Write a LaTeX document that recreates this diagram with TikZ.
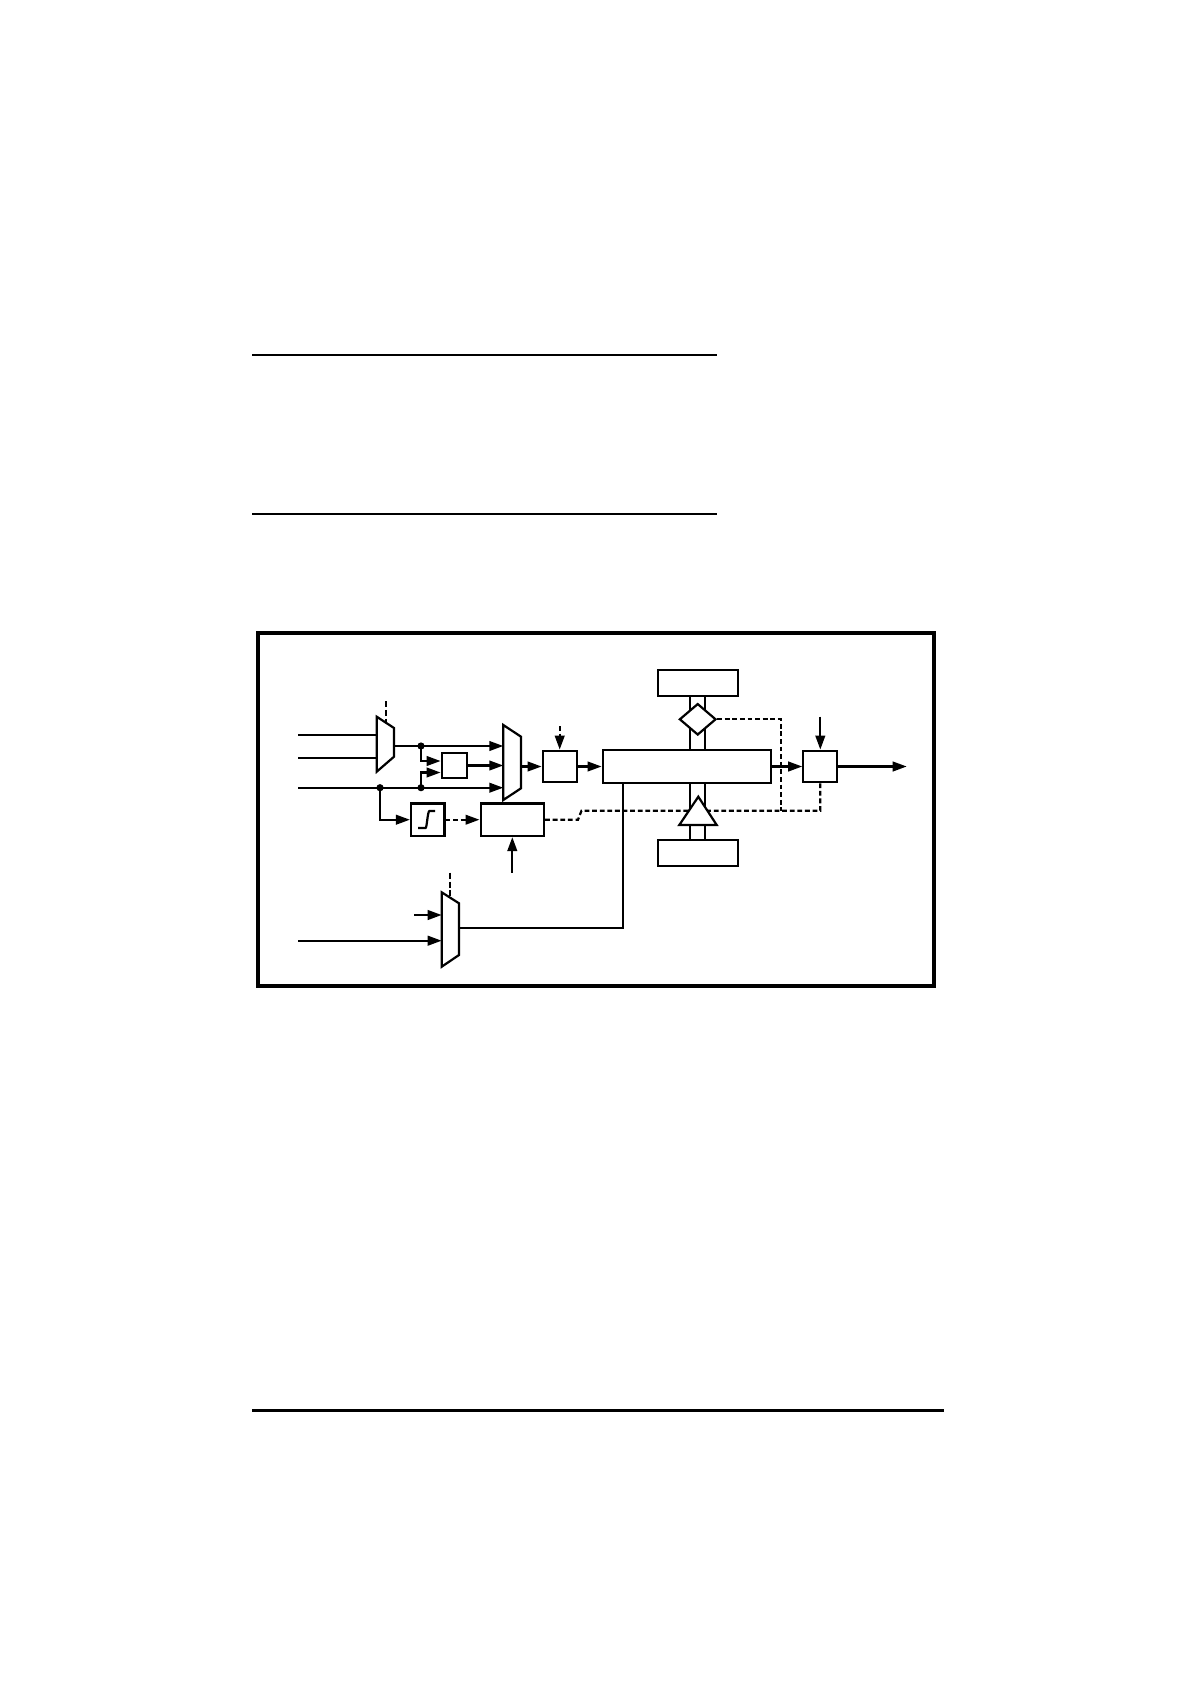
\documentclass[tikz,border=0pt]{standalone}
\usetikzlibrary{arrows.meta,shapes.geometric}
\begin{document}
\begin{tikzpicture}[x=0.5pt,y=-0.5pt,
  line width=1.1pt,
  arr/.style={-{Triangle[length=7pt,width=4.8pt]}},
  dsh/.style={dash pattern=on 2.4pt off 1.4pt},
  seldash/.style={line width=1.4pt,dash pattern=on 3pt off 1.4pt},
  blk/.style={draw,rectangle,inner sep=0pt,fill=white},
  jdot/.style={circle,fill,inner sep=0pt,minimum size=3.6pt},
  muxshape/.style={draw,line join=miter,fill=white}]
\useasboundingbox (0,0) rectangle (1190,1684);

% page rules
\draw[line width=0.7pt] (252,355) -- (717,355);
\draw[line width=0.7pt] (252,514) -- (717,514);
\draw[line width=1.8pt] (252,1410.5) -- (944,1410.5);

% frame
\draw[line width=2pt] (258,633) rectangle (934,985.5);

% blocks
\node[blk,minimum width=12.8pt,minimum height=12.4pt] (sb) at (454.5,765.5) {};
\node[blk,minimum width=17pt,minimum height=15.8pt] (b3) at (559.7,766.5) {};
\node[blk,minimum width=84.2pt,minimum height=16.8pt] (big) at (686.9,766.5) {};
\node[blk,minimum width=17pt,minimum height=15.8pt] (b7) at (820.3,766.5) {};
\node[blk,minimum width=40.3pt,minimum height=13pt] (top) at (698,683) {};
\node[blk,minimum width=40.3pt,minimum height=13pt] (bot) at (698,853) {};
\node[blk,minimum width=16.7pt,minimum height=16.3pt] (stp) at (427.7,819.7) {};
\node[blk,minimum width=31.7pt,minimum height=16.3pt] (b5) at (512.3,819.7) {};

% step symbol
\draw (418,828) -- (425.5,828) .. controls (427,828) and (427.5,811) .. (429.5,811) -- (435,811);

% multiplexers
\draw[muxshape] (376.7,716.7) -- (394,728) -- (394,756.7) -- (376.7,771.7) -- cycle;
\draw[muxshape] (503.3,725) -- (521,736.7) -- (521,788.3) -- (503.3,800) -- cycle;
\draw[muxshape] (441.7,892.3) -- (459,903.3) -- (459,955) -- (441.7,966.7) -- cycle;

% connection points
\coordinate (i1) at (298.3,735);
\coordinate (i2) at (298.3,757.7);
\coordinate (i3) at (298.3,787.7);
\coordinate (i4) at (298.3,940.7);
\coordinate (m1a) at (376.7,735);
\coordinate (m1b) at (376.7,757.7);
\coordinate (m1o) at (394,746);
\coordinate (m1s) at (386,722.5);
\coordinate (s1) at (386,701);
\coordinate (m2a) at (503.3,746);
\coordinate (m2b) at (503.3,765.5);
\coordinate (m2c) at (503.3,787.7);
\coordinate (m2o) at (521,766.5);
\coordinate (m3a) at (441.7,915);
\coordinate (m3b) at (441.7,940.7);
\coordinate (m3o) at (459,927.7);
\coordinate (m3s) at (450,897.5);
\coordinate (s3) at (450,872.7);
\coordinate (a3) at (414,915);
\coordinate (s3b) at (559.7,726);
\coordinate (s7) at (820.3,716.7);
\coordinate (out) at (906.7,766.5);
\coordinate (b5in) at (512.3,872.7);
\coordinate (dj) at (781,810.7);

% solid connectors
\draw (i1) -- (m1a);
\draw (i2) -- (m1b);
\draw[arr] (m1o) -- (m2a);
\draw[arr] (i3) -- (m2c);
\node[jdot] (j1) at (421,746) {};
\node[jdot] (j2) at (421,787.7) {};
\node[jdot] (j3) at (380,787.7) {};
\draw[arr] (j1.center) |- ([yshift=2.25pt]sb.west);
\draw[arr] (j2.center) |- ([yshift=-3.5pt]sb.west);
\draw[arr] (sb.east) -- (m2b);
\draw[arr] (m2o) -- (b3.west);
\draw[arr] (b3.east) -- (big.west);
\draw[arr] (big.east) -- (b7.west);
\draw[arr] (s7) -- (b7.north);
\draw[arr] (b7.east) -- (out);
\draw[arr] (j3.center) |- (stp.west);
\draw[arr] (b5in) -- (b5.south);
\draw[arr] (i4) -- (m3b);
\draw[arr] (a3) -- (m3a);
\draw (m3o) -| ([xshift=-31.8pt]big.south);

% dashed connectors
\draw[seldash] (s1) -- (m1s);
\draw[seldash] (s3) -- (m3s);
\draw[arr,dsh] (s3b) -- (b3.north);
\draw[arr,dsh] (stp.east) -- (b5.west);
\draw[dsh] (b5.east) -- (578,819.7) -- (581.5,810.7) -- (b7.south |- dj) -- (b7.south);

% bus lines
\draw ([xshift=-4pt]top.south) -- ([xshift=-4pt]top.south |- big.north);
\draw ([xshift=3.65pt]top.south) -- ([xshift=3.65pt]top.south |- big.north);
\draw ([xshift=-4pt]bot.north) -- ([xshift=-4pt]bot.north |- big.south);
\draw ([xshift=3.65pt]bot.north) -- ([xshift=3.65pt]bot.north |- big.south);

% triangle and diamond on the bus
\draw[fill=white,line join=miter] (698.3,796.7) -- (716.7,825) -- (679.3,825) -- cycle;
\node[draw,diamond,fill=white,inner sep=0pt,minimum width=18.3pt,minimum height=15.7pt] (dia) at (697.7,719.3) {};
\draw[dsh] (dia.east) -| (dj);
\end{tikzpicture}
\end{document}
